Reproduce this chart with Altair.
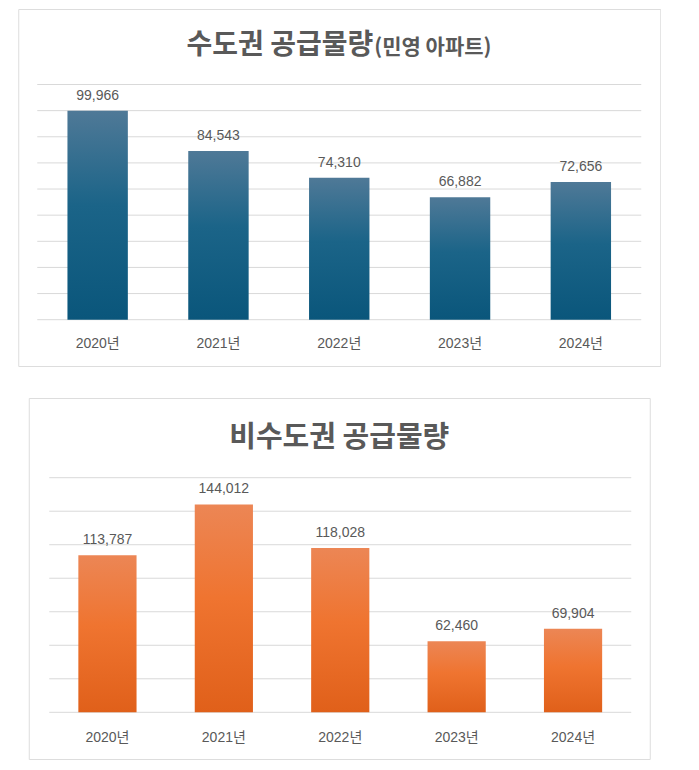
import altair as alt
import pandas as pd

years = ["2020년", "2021년", "2022년", "2023년", "2024년"]
metro = [99966, 84543, 74310, 66882, 72656]
nonmetro = [113787, 144012, 118028, 62460, 69904]

metro_ticks = [20000, 30000, 40000, 50000, 60000, 70000, 80000, 90000, 100000, 110000]
nonmetro_ticks = [20000, 40000, 60000, 80000, 100000, 120000, 140000, 160000]

title1_main = "수도권 공급물량"
title1_sub = "(민영 아파트)"
title2 = "비수도권 공급물량"

FONT = "Liberation Sans, Noto Sans CJK KR"
TFONT = "Noto Sans CJK KR"
TXT = "#595959"
GRID = "#d9d9d9"

blue = alt.Gradient(
    gradient="linear",
    stops=[alt.GradientStop(color="#4f7997", offset=0),
           alt.GradientStop(color="#1b6488", offset=0.45),
           alt.GradientStop(color="#0a567b", offset=1)],
    x1=0, x2=0, y1=0, y2=1)
orange = alt.Gradient(
    gradient="linear",
    stops=[alt.GradientStop(color="#ec8655", offset=0),
           alt.GradientStop(color="#ef7430", offset=0.45),
           alt.GradientStop(color="#e0601a", offset=1)],
    x1=0, x2=0, y1=0, y2=1)


def panel(values, ticks, ymin, ymax, yrange, xrange, w, h, grad, label_offset, titles):
    df = pd.DataFrame({"year": years, "v": values})
    tdf = pd.DataFrame({"t": ticks})
    ysc = alt.Scale(domain=[ymin, ymax], range=yrange)
    xsc = alt.Scale(domain=years, range=xrange, paddingInner=0.5, paddingOuter=0.25)
    grid = alt.Chart(tdf).mark_rule(color=GRID, strokeWidth=1).encode(
        y=alt.Y("t:Q", scale=ysc, axis=None),
        x=alt.value(xrange[0]), x2=alt.value(xrange[1]))
    base = alt.Chart(df).encode(
        x=alt.X("year:N", sort=years, scale=xsc,
                axis=alt.Axis(title=None, labelAngle=0, ticks=False, domain=False,
                              labelFont=FONT, labelFontSize=14, labelColor=TXT,
                              labelPadding=0, offset=label_offset)))
    bars = base.mark_bar(color=grad).encode(
        y=alt.Y("v:Q", scale=ysc, axis=None), y2=alt.datum(ymin))
    labels = base.mark_text(baseline="bottom", dy=-8, font=FONT, fontSize=14, color=TXT).encode(
        y=alt.Y("v:Q", scale=ysc), text=alt.Text("v:Q", format=","))
    layers = [grid, bars, labels] + titles
    return alt.layer(*layers).properties(width=w, height=h)


def title_mark(text, x, y, size, align):
    return alt.Chart(pd.DataFrame({"s": [text]})).mark_text(
        font=TFONT, fontSize=size, fontWeight="bold", color=TXT,
        align=align, baseline="alphabetic").encode(
        text="s:N", x=alt.value(x), y=alt.value(y))


top = panel(metro, metro_ticks, 20000, 110000, [310.7, 75.5], [19, 623], 642, 357,
            blue, -30,
            [title_mark(title1_main, 355, 45, 28, "right"),
             title_mark(title1_sub, 356, 45, 21, "left")])

bottom = panel(nonmetro, nonmetro_ticks, 20000, 160000, [314.3, 79.7], [20.5, 602.5], 621, 361,
               orange, -28.5,
               [title_mark(title2, 310.5, 49, 29, "center")])

chart = alt.vconcat(top, bottom, spacing=30, center=True).properties(
    padding={"left": 9, "top": 0, "right": 0, "bottom": 0}
).configure_view(stroke="#d6d6d6", strokeWidth=1.5).configure(background="white")

chart.save("out.html", embed_options={"renderer": "svg", "actions": False})
